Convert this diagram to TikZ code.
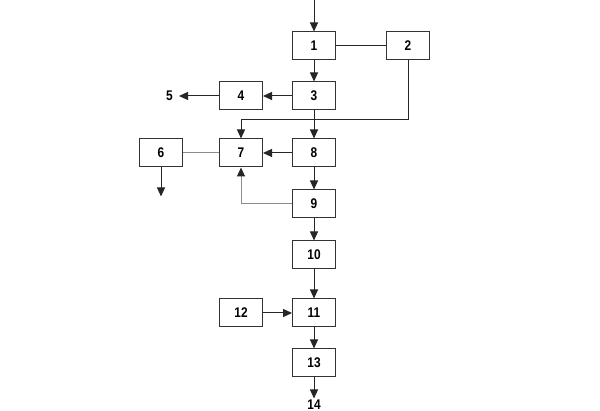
\documentclass[tikz,border=0pt]{standalone}
\usepackage{fontspec}
\setmainfont{Liberation Sans}[FakeStretch=0.85]
\usetikzlibrary{arrows.meta}
\usetikzlibrary{positioning}
\usetikzlibrary{calc}

\begin{document}
\begin{tikzpicture}[
    box/.style={
        draw=black!80, line width=1pt,
        minimum width=43pt,
        minimum height=28pt,
        font=\bfseries\fontsize{14}{16}\selectfont
    },
    lbl/.style={inner sep=1pt, font=\bfseries\fontsize{14}{16}\selectfont},
    arrow/.style={-{Triangle[length=9pt,width=8pt]}, line width=1pt, draw=black!85},
    link/.style={line width=1pt, draw=black!85},
    greyline/.style={line width=1pt, draw=black!45}
]
\useasboundingbox (0,0) rectangle (600pt,-411pt);
\node[box] (n1) at (314pt,-46pt) {1};
\node[box, right=50pt of n1] (n2) {2};
\node[box, below=21pt of n1] (n3) {3};
\node[box, left=29pt of n3] (n4) {4};
\node[lbl, left=45pt of n4] (n5) {5};
\node[box, below=28pt of n3] (n8) {8};
\node[box, left=29pt of n8] (n7) {7};
\node[box, left=36pt of n7] (n6) {6};
\node[box, below=22pt of n8] (n9) {9};
\node[box, below=22pt of n9] (n10) {10};
\node[box, below=29pt of n10] (n11) {11};
\node[box, left=29pt of n11] (n12) {12};
\node[box, below=21pt of n11] (n13) {13};
\node[lbl, below=21pt of n13] (n14) {14};
\coordinate[above=32pt of n1] (in);
\coordinate[below=29pt of n6] (n6out);
\coordinate (split) at ($(n3.south)!0.32!(n8.north)$);
% main column
\draw[arrow] (in) -- (n1);
\draw[arrow] (n1) -- (n3);
\draw[arrow] (n3) -- (n8);
\draw[arrow] (n8) -- (n9);
\draw[arrow] (n9) -- (n10);
\draw[arrow] (n10) -- (n11);
\draw[arrow] (n11) -- (n13);
\draw[arrow] (n13) -- (n14);
% side branches
\draw[link] (n1) -- (n2);
\draw[arrow] (n3) -- (n4);
\draw[arrow, shorten >=5pt] (n4) -- (n5);
\draw[arrow] (n2.south) -- (n2.south |- split) -| (n7.north);
\draw[arrow] (n8) -- (n7);
\draw[greyline] (n6) -- (n7);
\draw[arrow] (n6) -- (n6out);
\draw[greyline, -{Triangle[length=9pt,width=8pt,color=black!85]}] (n9.west) -| (n7.south);
\draw[arrow] (n12) -- (n11);
\end{tikzpicture}
\end{document}
